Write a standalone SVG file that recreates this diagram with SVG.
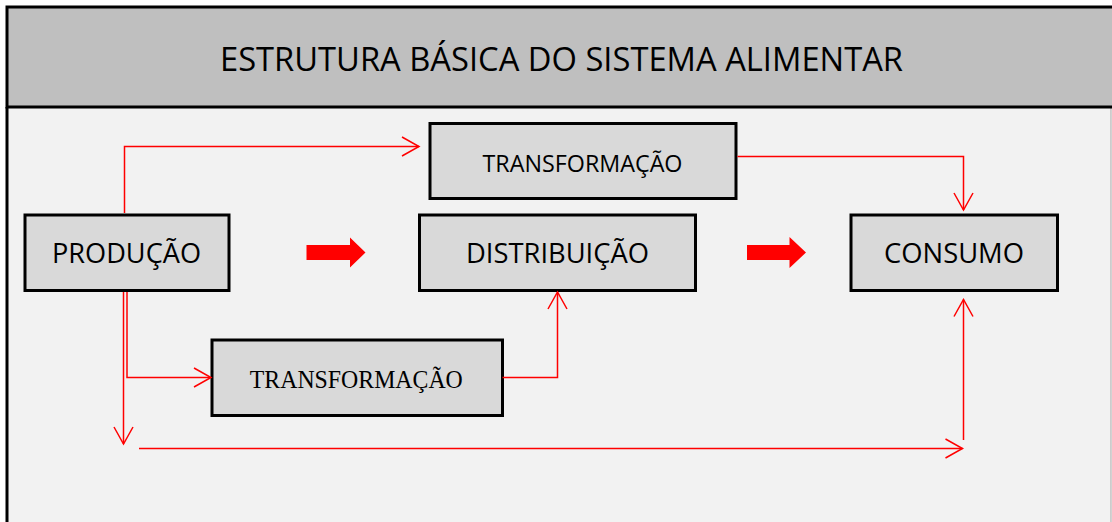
<svg xmlns="http://www.w3.org/2000/svg" width="1112" height="522" viewBox="0 0 1112 522">
  <style>
    .box { fill: #d9d9d9; stroke: #000; stroke-width: 3; }
    .lbl { font-family: "Open Sans", "Liberation Sans", sans-serif; fill: #000; text-anchor: middle; }
    .ser { font-family: "Liberation Serif", "Times New Roman", serif; fill: #000; text-anchor: middle; }
    .con { fill: none; stroke: #ff0000; stroke-width: 1.5; marker-end: url(#open); }
    .big { fill: #ff0000; }
  </style>
  <defs>
    <marker id="open" viewBox="-19 -11 21 22" markerWidth="21" markerHeight="22" refX="0" refY="0" markerUnits="userSpaceOnUse" orient="auto">
      <path d="M-17,-9.5 L0,0 L-17,9.5" fill="none" stroke="#ff0000" stroke-width="1.5"/>
    </marker>
  </defs>

  <g id="background">
    <rect x="7" y="107" width="1104" height="420" fill="#f2f2f2" stroke="#a6a6a6" stroke-width="1"/>
    <line x1="7" y1="107" x2="7" y2="522" stroke="#000" stroke-width="3"/>
  </g>

  <g id="header">
    <rect x="7" y="7" width="1110" height="100" fill="#bfbfbf" stroke="#000" stroke-width="3"/>
    <text class="lbl" x="561.5" y="71" font-size="33.5" textLength="683" lengthAdjust="spacingAndGlyphs">ESTRUTURA BÁSICA DO SISTEMA ALIMENTAR</text>
  </g>

  <g id="producao">
    <rect class="box" x="25" y="215" width="204" height="75.5"/>
    <text class="lbl" x="126.5" y="263" font-size="28" textLength="149" lengthAdjust="spacingAndGlyphs">PRODUÇÃO</text>
  </g>

  <g id="transformacao-top">
    <rect class="box" x="430" y="123.5" width="306" height="75"/>
    <text class="lbl" x="582.5" y="172" font-size="24" textLength="200" lengthAdjust="spacingAndGlyphs">TRANSFORMAÇÃO</text>
  </g>

  <g id="distribuicao">
    <rect class="box" x="419.5" y="215" width="276" height="75.5"/>
    <text class="lbl" x="557.5" y="263" font-size="28" textLength="183" lengthAdjust="spacingAndGlyphs">DISTRIBUIÇÃO</text>
  </g>

  <g id="consumo">
    <rect class="box" x="851" y="215" width="206.5" height="75.5"/>
    <text class="lbl" x="954" y="263" font-size="28" textLength="140" lengthAdjust="spacingAndGlyphs">CONSUMO</text>
  </g>

  <g id="transformacao-bottom">
    <rect class="box" x="212" y="340" width="290.5" height="75.5"/>
    <text class="ser" x="356.3" y="387.5" font-size="24.5" textLength="213" lengthAdjust="spacingAndGlyphs">TRANSFORMAÇÃO</text>
  </g>

  <g id="connectors">
    <path class="con" d="M124.5 213 V146.5 H419"/>
    <path class="con" d="M737.5 156.5 H963.5 V210"/>
    <path class="con" d="M127 292 V377.5 H211"/>
    <path class="con" d="M123.5 292 V444"/>
    <path class="con" d="M502.5 377.5 H557.5 V292"/>
    <path class="con" d="M139 448.5 H962.5"/>
    <path class="con" d="M963.5 440 V299.5"/>
    <polygon class="big" points="306.5,245 350,245 350,237.5 365.5,252.5 350,267.5 350,260 306.5,260"/>
    <polygon class="big" points="747,245 789.5,245 789.5,237 806,252.5 789.5,268 789.5,260 747,260"/>
  </g>
</svg>
